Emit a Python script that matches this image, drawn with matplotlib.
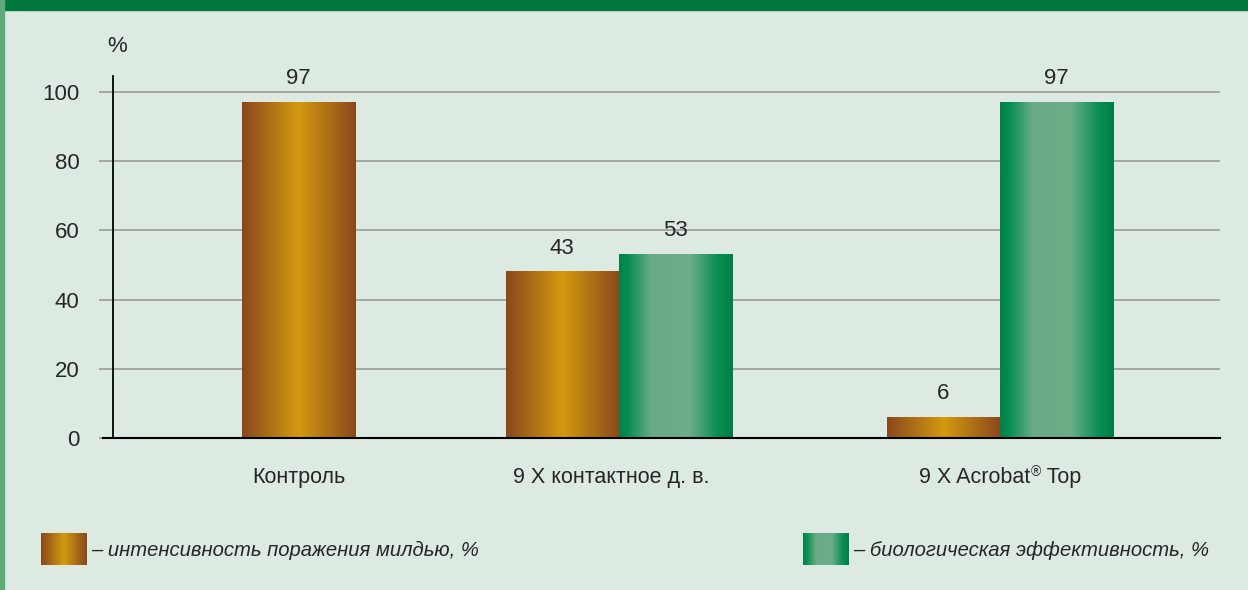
import numpy as np
import matplotlib
matplotlib.use("Agg")
import matplotlib.pyplot as plt
from matplotlib.patches import Rectangle
from matplotlib.colors import LinearSegmentedColormap
import matplotlib.transforms as mtransforms

plt.rcParams['font.family'] = ['Liberation Sans', 'DejaVu Sans']

# data
categories = ["Контроль", "9 X контактное д. в."]
last_category = ["9 X Acrobat", "®", " Top"]
intensity = [97, 48, 6]            # bar heights as drawn
intensity_labels = ["97", "43", "6"]
efficiency = [None, 53, 97]
efficiency_labels = [None, "53", "97"]
legend_texts = ["– интенсивность поражения милдью, %", "– биологическая эффективность, %"]
yticks = [0, 20, 40, 60, 80, 100]

# layout (x units = pixels)
group_x = [298.5, 619, 1000]
label_x = [299, 611.5, 1000]
bar_w = 113.5

bg = '#ddeae2'
txt_c = '#262626'
brown_cmap = LinearSegmentedColormap.from_list(
    'brown', [(0, '#8a481c'), (0.5, '#d4990f'), (1, '#8a481c')])
green_cmap = LinearSegmentedColormap.from_list(
    'green', [(0, '#00824a'), (0.08, '#078d52'), (0.28, '#68ab86'), (0.62, '#6cae88'),
              (0.86, '#0b8f55'), (1, '#007d45')])
grad = np.linspace(0, 1, 256).reshape(1, -1)

fig = plt.figure(figsize=(12.48, 5.90), dpi=100, facecolor=bg)
ax = fig.add_axes([113 / 1248, 1 - 438 / 590, (1220 - 113) / 1248, 362 / 590])
ax.set_facecolor(bg)

# gridlines
for t in yticks[1:]:
    ax.axhline(t, color='#9b9b9b', lw=1.2, zorder=1)

def grad_bar(x0, h, cmap, label):
    ax.imshow(grad, cmap=cmap, extent=(x0, x0 + bar_w, 0, h), aspect='auto',
              interpolation='bicubic', zorder=3)
    ax.annotate(label, (x0 + bar_w / 2, h), xytext=(0, 9.5), textcoords='offset points',
                ha='center', va='bottom', fontsize=16, color=txt_c, zorder=4)

for i, gx in enumerate(group_x):
    if efficiency[i] is None:
        grad_bar(gx - bar_w / 2, intensity[i], brown_cmap, intensity_labels[i])
    else:
        grad_bar(gx - bar_w, intensity[i], brown_cmap, intensity_labels[i])
        grad_bar(gx, efficiency[i], green_cmap, efficiency_labels[i])

ax.set_xlim(113, 1220)
ax.set_ylim(0, 104.6)

for s in ['top', 'right', 'bottom']:
    ax.spines[s].set_visible(False)
ax.spines['left'].set_color('black')
ax.spines['left'].set_linewidth(1.3)

# bottom axis line extending left past the y axis
trans = mtransforms.blended_transform_factory(ax.transAxes, ax.transData)
ax.plot([-10 / 1107, 1], [0, 0], color='black', lw=1.5, transform=trans,
        clip_on=False, zorder=5)

ax.set_yticks(yticks)
ax.set_yticklabels([str(t) for t in yticks], fontsize=16, color=txt_c)
ax.tick_params(axis='y', length=10, width=1.2, color='#9b9b9b', pad=14)
ax.set_xticks([])

# category labels, baseline aligned
ybase = 1 - 483 / 590
tx = mtransforms.blended_transform_factory(ax.transData, fig.transFigure)
for lx, cat in zip(label_x, categories):
    ax.text(lx, ybase, cat, transform=tx, ha='center', va='baseline',
            fontsize=15.5, color=txt_c)

# last label with small superscript ®
t1 = ax.text(label_x[2], ybase, last_category[0], transform=tx, ha='left',
             va='baseline', fontsize=15.5, color=txt_c)
t2 = ax.annotate(last_category[1], xy=(1, 0), xycoords=t1, xytext=(0.3, 6.2),
                 textcoords='offset points', va='bottom', fontsize=10, color=txt_c)
t3 = ax.annotate(last_category[2], xy=(1, 0), xycoords=(t2, t1), va='bottom',
                 fontsize=15.5, color=txt_c)
fig.canvas.draw()
r = fig.canvas.get_renderer()
w = t3.get_window_extent(r).x1 - t1.get_window_extent(r).x0
t1.set_x(label_x[2] - w / 2)

fig.text(107 / 1248, 1 - 46 / 590, '%', fontsize=16, color=txt_c, va='center')

# frame decoration
fig.patches.append(Rectangle((0, 1 - 10 / 590), 1, 10 / 590, transform=fig.transFigure,
                             color='#00773f', zorder=0))
fig.patches.append(Rectangle((0, 0), 4 / 1248, 1, transform=fig.transFigure,
                             color='#5fa87a', zorder=0))

# legend
for (x0, cmap, txt) in [(41, brown_cmap, legend_texts[0]), (803, green_cmap, legend_texts[1])]:
    lax = fig.add_axes([x0 / 1248, 1 - 565 / 590, 46 / 1248, 32 / 590])
    lax.imshow(grad, cmap=cmap, aspect='auto', interpolation='bicubic')
    lax.axis('off')
    fig.text((x0 + 50) / 1248, 1 - 556 / 590, txt, fontsize=14.6, style='italic',
             color=txt_c, va='baseline')

fig.savefig('out.png', dpi=100, facecolor=bg)
